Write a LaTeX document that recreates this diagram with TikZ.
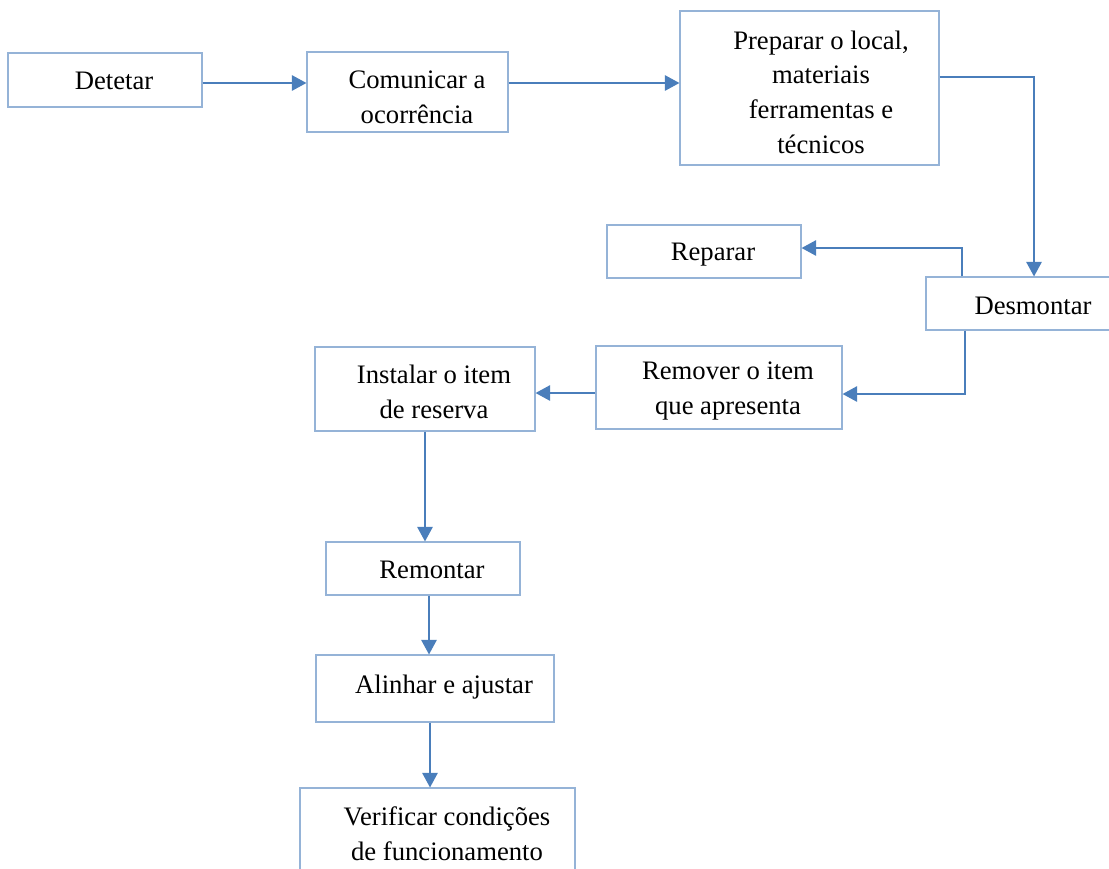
\documentclass[tikz,border=0pt]{standalone}
\usepackage{fontspec}
\setmainfont{Liberation Serif}
\usetikzlibrary{fit,arrows.meta}
\definecolor{boxline}{HTML}{95B3D7}
\definecolor{flowline}{HTML}{4A7EBB}
\tikzset{
  procbox/.style={draw=boxline, line width=0.8pt, inner sep=0pt, rectangle},
  boxtext/.style={inner sep=0pt, align=center, font=\fontsize{20}{26}\selectfont},
  flow/.style={draw=flowline, line width=1.6pt,
    -{Triangle[length=11pt,width=11.5pt]}},
}
\begin{document}
\begin{tikzpicture}[x=0.75pt,y=-0.75pt]
\useasboundingbox (0,0) rectangle (1109,868);

% process boxes
\node[procbox, fit={(8,53) (202,107)}]   (det)  {};
\node[procbox, fit={(307,52) (508,132)}] (com)  {};
\node[procbox, fit={(680,11) (939,165)}] (prep) {};
\node[procbox, fit={(607,225) (801,278)}] (rep) {};
\node[procbox, fit={(926,277) (1118,330)}] (des) {};
\node[procbox, fit={(596,346) (842,429)}] (rem) {};
\node[procbox, fit={(315,347) (535,431)}] (ins) {};
\node[procbox, fit={(326,542) (520,595)}] (remo) {};
\node[procbox, fit={(316,655) (554,722)}] (ali) {};
\node[procbox, fit={(300,788) (575,880)}] (ver) {};

% box texts
\node[boxtext] (tdet)  at (114,81)  {Detetar};
\node[boxtext] (tcom)  at (417,97)  {Comunicar a\\ocorrência};
\node[boxtext] (tprep) at (821,92)  {Preparar o local,\\materiais\\ferramentas e\\técnicos};
\node[boxtext] (trep)  at (713,255) {Reparar};
\node[boxtext] (tdes)  at (1033,306) {Desmontar};
\node[boxtext] (trem)  at (728,391) {Remover o item\\que apresenta};
\node[boxtext] (tins)  at (434,392) {Instalar o item\\de reserva};
\node[boxtext] (tremo) at (432,570) {Remontar};
\node[boxtext] (tali)  at (444,687) {Alinhar e ajustar};
\node[boxtext] (tver)  at (447,834) {Verificar condições\\de funcionamento};

% connectors
\draw[flow] (det.east |- 0,83) -- (com.west |- 0,83);
\draw[flow] (com.east |- 0,83) -- (prep.west |- 0,83);
\draw[flow] (prep.east |- 0,77) -| (des.north -| 1034,0);
\draw[flow] (des.north -| 962,0) |- (rep.east |- 0,248);
\draw[flow] (des.south -| 965,0) |- (rem.east |- 0,394);
\draw[flow] (rem.west |- 0,393) -- (ins.east |- 0,393);
\draw[flow] (ins.south -| 425,0) -- (remo.north -| 425,0);
\draw[flow] (remo.south -| 429,0) -- (ali.north -| 429,0);
\draw[flow] (ali.south -| 430,0) -- (ver.north -| 430,0);
\end{tikzpicture}
\end{document}
